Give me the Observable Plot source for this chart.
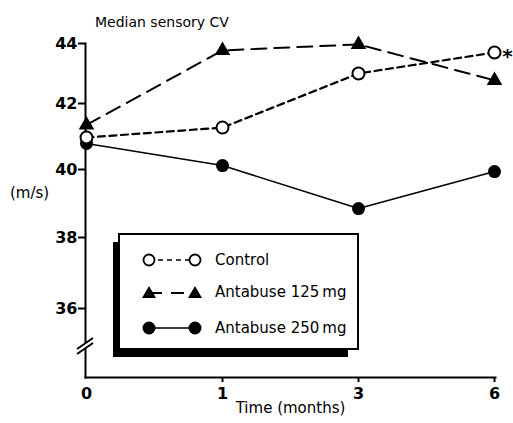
<!DOCTYPE html>
<html><head><meta charset="utf-8">
<script src="https://cdn.jsdelivr.net/npm/d3@7"></script>
<script src="https://cdn.jsdelivr.net/npm/@observablehq/plot@0.6"></script>
<style>
html,body{margin:0;padding:0;background:#fff;}
#wrap{position:relative;width:513px;height:423px;font-family:"DejaVu Sans",sans-serif;color:#000;overflow:hidden;}
#wrap > svg{position:absolute;left:0;top:0;}
.title{position:absolute;left:95px;top:13px;font-size:14px;line-height:18px;white-space:nowrap;}
.ylab{position:absolute;left:10px;top:184px;font-size:15px;line-height:18px;white-space:nowrap;}
.lshadow{position:absolute;left:113px;top:242px;width:235px;height:115px;background:#000;}
.legend{position:absolute;left:118px;top:233px;width:241px;height:117px;box-sizing:border-box;border:2px solid #000;background:#fff;}
.row{position:absolute;left:0;height:24px;width:100%;}
.row svg{position:absolute;left:0;top:0;}
.row span{position:absolute;left:95px;top:2px;font-size:15px;line-height:20px;white-space:nowrap;}
.brk{position:absolute;left:0;top:0;pointer-events:none;}
</style></head><body>
<div id="wrap"></div>
<script>
// ---- data ----
const months = [0, 1, 3, 6];
const control = [40.97, 41.27, 43.0, 43.7];
const antabuse125 = [41.35, 43.77, 43.97, 42.77];
const antabuse250 = [40.79, 40.12, 38.85, 39.94];
const yTicks = [36, 38, 40, 42, 44];
const seriesNames = ["Control", "Antabuse 125\u2009mg", "Antabuse 250\u2009mg"];
const significance = ["*"];

const rows = (vals, s) => months.map((m, i) => ({month: m, value: vals[i], series: s}));
const rCtrl = rows(control, seriesNames[0]);
const r125 = rows(antabuse125, seriesNames[1]);
const r250 = rows(antabuse250, seriesNames[2]);

const chart = Plot.plot({
  width: 513, height: 423,
  marginTop: 43, marginBottom: 46, marginLeft: 85, marginRight: 18,
  style: {fontFamily: "DejaVu Sans, sans-serif", background: "transparent", color: "black", overflow: "visible"},
  x: {type: "point", domain: months, range: [85, 495], padding: 0},
  y: {type: "linear", domain: [36, 38, 40, 42, 44], range: [308, 237, 169, 103, 43]},
  marks: [
    Plot.frame({anchor: "left", strokeWidth: 2}),
    Plot.frame({anchor: "bottom", strokeWidth: 2}),
    Plot.axisY(yTicks, {tickSize: 7, tickPadding: 1, fontSize: 16, fontWeight: "bold", strokeWidth: 2, label: null}),
    Plot.axisX(months.filter(m => m !== 0), {tickSize: 5, tickPadding: 5, fontSize: 16, fontWeight: "bold", strokeWidth: 2, label: null}),
    Plot.axisX([0], {tickSize: 0, tickPadding: 10, fontSize: 16, fontWeight: "bold", label: null}),
    Plot.text(["Time (months)"], {frameAnchor: "bottom", dy: 35, fontSize: 15}),
    Plot.line(r250, {x: "month", y: "value", stroke: "black", strokeWidth: 1.6}),
    Plot.line(r125, {x: "month", y: "value", stroke: "black", strokeWidth: 2, strokeDasharray: "15,8"}),
    Plot.line(rCtrl, {x: "month", y: "value", stroke: "black", strokeWidth: 2.2, strokeDasharray: "7,4.5"}),
    Plot.dot(r250, {x: "month", y: "value", r: 6.5, fill: "black"}),
    Plot.dot(r125, {x: "month", y: "value", symbol: "triangle", r: 5.8, fill: "black"}),
    Plot.dot(rCtrl, {x: "month", y: "value", r: 6, fill: "white", stroke: "black", strokeWidth: 2}),
    Plot.text(significance, {x: () => months[3], y: () => control[3], text: d => d, dx: 13, dy: 4, fontSize: 20, fontWeight: "bold"})
  ]
});

const wrap = document.getElementById("wrap");
wrap.appendChild(chart);

// axis break marker
const ns = "http://www.w3.org/2000/svg";
const brk = document.createElementNS(ns, "svg");
brk.setAttribute("class", "brk");
brk.setAttribute("width", 513); brk.setAttribute("height", 423);
brk.innerHTML = '<polygon points="77,349 93,338 93,343 77,354" fill="white"/>' +
  '<line x1="77" y1="349" x2="93" y2="338" stroke="black" stroke-width="2"/>' +
  '<line x1="77" y1="354" x2="93" y2="343" stroke="black" stroke-width="2"/>';
wrap.appendChild(brk);

// title and y label
const t = document.createElement("div"); t.className = "title"; t.textContent = "Median sensory CV"; wrap.appendChild(t);
const yl = document.createElement("div"); yl.className = "ylab"; yl.textContent = "(m/s)"; wrap.appendChild(yl);

// legend
const sh = document.createElement("div"); sh.className = "lshadow"; wrap.appendChild(sh);
const lg = document.createElement("div"); lg.className = "legend"; wrap.appendChild(lg);
const rowTops = [13, 45, 81];
const symbols = [
  '<line x1="29" y1="12" x2="75" y2="12" stroke="black" stroke-width="1.6" stroke-dasharray="5,4"/>' +
  '<circle cx="29" cy="12" r="5.5" fill="white" stroke="black" stroke-width="1.8"/>' +
  '<circle cx="75" cy="12" r="5.5" fill="white" stroke="black" stroke-width="1.8"/>',
  '<line x1="29" y1="13" x2="75" y2="13" stroke="black" stroke-width="1.8" stroke-dasharray="13,9"/>' +
  '<path d="M22,18 L29,6 L36,18 Z" fill="black"/><path d="M68,18 L75,6 L82,18 Z" fill="black"/>',
  '<line x1="29" y1="12" x2="75" y2="12" stroke="black" stroke-width="1.6"/>' +
  '<circle cx="29" cy="12" r="6.5" fill="black"/><circle cx="75" cy="12" r="6.5" fill="black"/>'
];
seriesNames.forEach((name, i) => {
  const r = document.createElement("div"); r.className = "row"; r.style.top = rowTops[i] + "px";
  r.innerHTML = '<svg width="95" height="24">' + symbols[i] + '</svg><span>' + name + '</span>';
  lg.appendChild(r);
});
</script>
</body></html>
